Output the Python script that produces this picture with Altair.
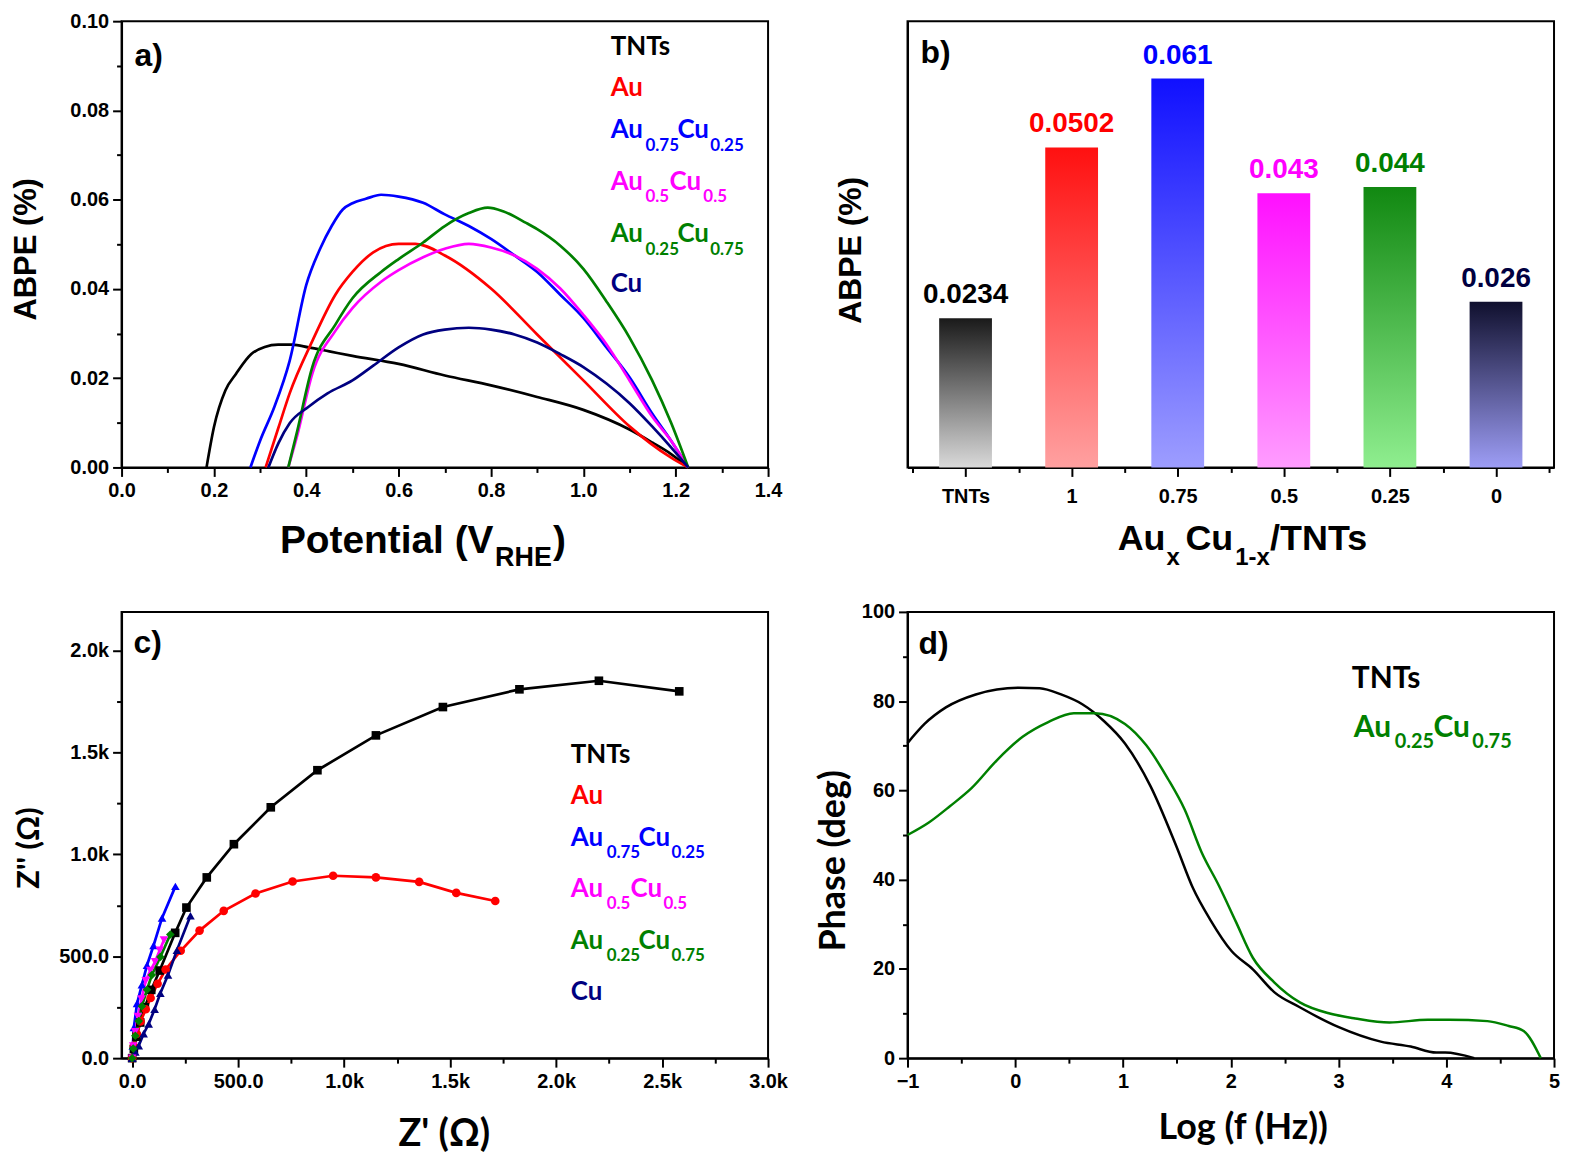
import altair as alt
import pandas as pd

ARIAL = "Liberation Sans"
CAL = "Lato"

# ---------------- Panel a data (ABPE vs potential) ----------------
a_series = ["TNTs", "Au", "Au0.75Cu0.25", "Au0.5Cu0.5", "Au0.25Cu0.75", "Cu"]
a_colors = ["#000000", "#ff0000", "#0000ff", "#ff00ff", "#008000", "#000080"]

tnt_x = [0.184, 0.20, 0.225, 0.248, 0.281, 0.31, 0.339, 0.37, 0.405, 0.45, 0.5, 0.6, 0.7, 0.8, 0.9, 1.0, 1.1, 1.149, 1.19, 1.227]
tnt_y = [0, 0.009, 0.0173, 0.021, 0.0254, 0.027, 0.0275, 0.0275, 0.0269, 0.026, 0.025, 0.0232, 0.0206, 0.0184, 0.0158, 0.0129, 0.0085, 0.0056, 0.003, 0]
au_x = [0.312, 0.34, 0.364, 0.413, 0.463, 0.50, 0.545, 0.6, 0.636, 0.70, 0.8, 0.9, 1.0, 1.1, 1.19, 1.227]
au_y = [0, 0.009, 0.0166, 0.0283, 0.0387, 0.0438, 0.0482, 0.0501, 0.0501, 0.0475, 0.0401, 0.0298, 0.0195, 0.0092, 0.0022, 0]
a75_x = [0.279, 0.30, 0.331, 0.364, 0.40, 0.43, 0.455, 0.479, 0.50, 0.529, 0.562, 0.6, 0.653, 0.70, 0.752, 0.80, 0.851, 0.90, 0.95, 1.0, 1.05, 1.1, 1.149, 1.19, 1.227]
a75_y = [0, 0.006, 0.0136, 0.0239, 0.0409, 0.049, 0.0541, 0.0578, 0.0592, 0.0602, 0.0611, 0.0607, 0.0593, 0.0567, 0.0541, 0.0512, 0.0475, 0.0438, 0.0387, 0.0335, 0.0269, 0.0202, 0.0121, 0.006, 0]
a50_x = [0.361, 0.38, 0.413, 0.463, 0.5, 0.562, 0.6, 0.653, 0.7, 0.752, 0.8, 0.851, 0.9, 0.95, 1.0, 1.05, 1.1, 1.149, 1.19, 1.227]
a50_y = [0, 0.007, 0.021, 0.0306, 0.0357, 0.0416, 0.0442, 0.0471, 0.049, 0.0501, 0.0493, 0.0475, 0.0445, 0.0401, 0.0342, 0.0276, 0.0195, 0.0114, 0.006, 0]
a25_x = [0.361, 0.38, 0.413, 0.463, 0.5, 0.562, 0.6, 0.653, 0.7, 0.752, 0.793, 0.826, 0.876, 0.9, 0.95, 1.0, 1.05, 1.1, 1.149, 1.19, 1.227]
a25_y = [0, 0.008, 0.0225, 0.032, 0.0379, 0.0438, 0.0467, 0.0504, 0.0541, 0.057, 0.0582, 0.0574, 0.0548, 0.0534, 0.0497, 0.0445, 0.0372, 0.0291, 0.0195, 0.010, 0]
cu_x = [0.318, 0.34, 0.364, 0.405, 0.446, 0.5, 0.545, 0.6, 0.653, 0.7, 0.752, 0.8, 0.851, 0.9, 0.95, 1.0, 1.05, 1.1, 1.149, 1.19, 1.227]
cu_y = [0, 0.0055, 0.0099, 0.0136, 0.0166, 0.0195, 0.0228, 0.0269, 0.0298, 0.0309, 0.0313, 0.0309, 0.0298, 0.028, 0.0254, 0.0225, 0.0188, 0.0144, 0.0092, 0.0045, 0]

# ---------------- Panel b data (bar chart) ----------------
b_cats = ["TNTs", "1", "0.75", "0.5", "0.25", "0"]
b_vals = [0.0234, 0.0502, 0.061, 0.043, 0.044, 0.026]
b_labels = ["0.0234", "0.0502", "0.061", "0.043", "0.044", "0.026"]
b_top = ["#1a1a1a", "#ff1010", "#1010ff", "#ff10ff", "#118811", "#10102e"]
b_bottom = ["#d9d9d9", "#ffa0a0", "#9d9dff", "#ff9cff", "#8fee8f", "#9d9df5"]
b_text = ["#000000", "#ff0000", "#0000ff", "#ff00ff", "#008000", "#000040"]

# ---------------- Panel c data (Nyquist) ----------------
c_series = ["TNTs", "Au", "Au0.75Cu0.25", "Cu", "Au0.5Cu0.5", "Au0.25Cu0.75"]
c_colors = ["#000000", "#ff0000", "#0000ff", "#000080", "#ff00ff", "#008000"]
c_shapes = ["square", "circle", "triangle-up", "triangle-up", "triangle-down", "diamond"]
ct_x = [0, 8, 20, 38, 60, 90, 130, 203, 256, 352, 480, 654, 874, 1150, 1466, 1827, 2202, 2581]
ct_y = [0, 45, 105, 175, 250, 335, 430, 615, 739, 887, 1050, 1231, 1413, 1584, 1723, 1810, 1852, 1800]
ca_x = [0, 8, 22, 40, 64, 87, 120, 158, 229, 318, 432, 582, 757, 948, 1150, 1354, 1529, 1713]
ca_y = [0, 60, 120, 180, 240, 295, 365, 435, 527, 626, 723, 808, 867, 895, 887, 865, 811, 771]
c75_x = [0, 3, 8, 23, 46, 70, 101, 141, 204]
c75_y = [0, 60, 150, 268, 360, 456, 553, 688, 843]
ccu_x = [0, 15, 31, 54, 78, 106, 133, 169, 211, 275]
ccu_y = [0, 30, 61, 120, 168, 240, 319, 408, 529, 699]
c50_x = [0, 5, 14, 27, 44, 64, 86, 108, 130, 150]
c50_y = [0, 60, 130, 205, 290, 380, 430, 473, 530, 580]
c25_x = [0, 5, 15, 31, 46, 70, 93, 133, 180]
c25_y = [0, 47, 110, 182, 255, 336, 408, 497, 607]

# ---------------- Panel d data (Bode phase) ----------------
d_series = ["TNTs", "Au0.25Cu0.75"]
d_colors = ["#000000", "#008000"]
dt_x = [-1, -0.842, -0.644, -0.367, 0.029, 0.227, 0.425, 0.622, 0.82, 1.018, 1.256, 1.493, 1.651, 1.81, 2.007, 2.205, 2.403, 2.64, 2.997, 3.392, 3.67, 3.907, 3.99, 4.26]
dt_y = [70.6, 74.9, 78.6, 81.5, 83.0, 82.9, 81.5, 79.3, 75.6, 70.5, 60.9, 47.6, 38.0, 31.0, 24.0, 19.9, 14.8, 11.4, 7.0, 3.7, 2.6, 1.25, 1.25, 0]
dg_x = [-1, -0.802, -0.604, -0.406, -0.169, 0.068, 0.306, 0.543, 0.741, 1.018, 1.216, 1.414, 1.572, 1.73, 1.889, 2.047, 2.205, 2.403, 2.641, 2.918, 3.155, 3.472, 3.828, 4.026, 4.382, 4.58, 4.718, 4.877]
dg_y = [50.0, 52.8, 56.5, 60.5, 66.8, 72.0, 75.3, 77.3, 77.3, 74.9, 70.1, 62.7, 55.7, 46.1, 38.7, 30.6, 22.5, 17.0, 12.5, 10.0, 8.9, 8.0, 8.6, 8.6, 8.3, 7.2, 6.1, 0]

W, H = 649, 448


def long_df(names, xs, ys):
    rows = []
    for n, xa, ya in zip(names, xs, ys):
        for i, (xv, yv) in enumerate(zip(xa, ya)):
            rows.append({"s": n, "x": xv, "y": yv, "o": i})
    return pd.DataFrame(rows)


def txt(s, x, y, size, color="black", font=ARIAL, angle=0, align="left", baseline="alphabetic"):
    return alt.Chart(pd.DataFrame({"t": [s]})).mark_text(
        font=font, fontSize=size, fontWeight="bold", color=color, angle=angle,
        align=align, baseline=baseline
    ).encode(x=alt.value(x), y=alt.value(y), text="t:N")


def sub_label(parts, base, size, subsize, subdy, color):
    out = []
    for t, x, is_sub in parts:
        if is_sub:
            out.append(txt(t, x, base + subdy, subsize, color, CAL))
        else:
            out.append(txt(t, x, base, size, color, CAL))
    return out


def axis(values, major_test, label_expr, **kw):
    return alt.Axis(values=values, title=None, labelExpr=label_expr,
                    tickSize={"condition": {"test": major_test, "value": 9}, "value": 5},
                    labelFlush=False, labelOverlap=False, grid=False, **kw)


# ================= Panel a =================
dfa = long_df(a_series, [tnt_x, au_x, a75_x, a50_x, a25_x, cu_x], [tnt_y, au_y, a75_y, a50_y, a25_y, cu_y])
xa_vals = [round(i * 0.1, 1) for i in range(15)]
ya_vals = [round(i * 0.01, 2) for i in range(11)]
lines_a = alt.Chart(dfa).mark_line(strokeWidth=2.7, interpolate="monotone").encode(
    x=alt.X("x:Q", scale=alt.Scale(domain=[0, 1.4], nice=False, zero=False),
            axis=axis(xa_vals, "round(datum.value*10) % 2 === 0",
                      "round(datum.value*10) % 2 === 0 ? format(datum.value, '.1f') : ''")),
    y=alt.Y("y:Q", scale=alt.Scale(domain=[0, 0.10], nice=False),
            axis=axis(ya_vals, "round(datum.value*100) % 2 === 0",
                      "round(datum.value*100) % 2 === 0 ? format(datum.value, '.2f') : ''")),
    color=alt.Color("s:N", scale=alt.Scale(domain=a_series, range=a_colors), legend=None),
    order="o:Q",
)
a_layers = [lines_a,
            txt("a)", 13, 45, 32),
            txt("ABPE (%)", -95, 229, 31, angle=270, align="center", baseline="middle"),
            txt("Potential (V", 159, H + 86, 39),
            txt("RHE", 375, H + 99, 27),
            txt(")", 433, H + 86, 39),
            txt("TNTs", 491, 34, 26, a_colors[0], CAL),
            txt("Au", 491, 75, 26, a_colors[1], CAL)]
a_layers += sub_label([("Au", 491, False), ("0.75", 526, True), ("Cu", 558, False), ("0.25", 591, True)], 117, 26, 17, 13, a_colors[2])
a_layers += sub_label([("Au", 491, False), ("0.5", 526, True), ("Cu", 550, False), ("0.5", 584, True)], 169, 26, 17, 13, a_colors[3])
a_layers += sub_label([("Au", 491, False), ("0.25", 526, True), ("Cu", 558, False), ("0.75", 591, True)], 222, 26, 17, 13, a_colors[4])
a_layers += [txt("Cu", 491, 272, 26, a_colors[5], CAL)]
panel_a = alt.layer(*a_layers).properties(width=W, height=H)

# ================= Panel b =================
dfb = pd.DataFrame({"i": list(range(len(b_cats))), "cat": b_cats, "v": b_vals, "lab": b_labels})
xb_vals = [i * 0.5 - 0.5 for i in range(13)]
cat_arr = "[" + ",".join("'" + c + "'" for c in b_cats) + "]"
xb = alt.X("i:Q", scale=alt.Scale(domain=[-0.5, 5.5], nice=False, zero=False),
           axis=axis(xb_vals, "datum.value % 1 === 0",
                     "datum.value % 1 === 0 ? " + cat_arr + "[datum.value] : ''", labelPadding=10))
yb = alt.Y("v:Q", scale=alt.Scale(domain=[0, 0.07], nice=False),
           axis=alt.Axis(title=None, labels=False, ticks=False, grid=False))
b_layers = []
for k in range(len(b_cats)):
    grad = alt.Gradient(gradient="linear",
                        stops=[alt.GradientStop(color=b_top[k], offset=0),
                               alt.GradientStop(color=b_bottom[k], offset=1)],
                        x1=0, x2=0, y1=0, y2=1)
    b_layers.append(alt.Chart(dfb).transform_filter(alt.datum.i == k)
                    .mark_bar(size=53, color=grad).encode(x=xb, y=yb))
    b_layers.append(alt.Chart(dfb).transform_filter(alt.datum.i == k)
                    .mark_text(font=ARIAL, fontSize=28, fontWeight="bold", dy=-15,
                               baseline="alphabetic", color=b_text[k])
                    .encode(x=xb, y=yb, text="lab:N"))
b_layers += [txt("b)", 13, 42, 32),
             txt("ABPE (%)", -57, 230, 32, angle=270, align="center", baseline="middle"),
             txt("Au", 211, H + 83, 36), txt("x", 260, H + 98, 24), txt("Cu", 279, H + 83, 36),
             txt("1-x", 329, H + 98, 24), txt("/TNTs", 364, H + 83, 36)]
panel_b = alt.layer(*b_layers).properties(width=W, height=H)

# ================= Panel c =================
dfc = long_df(c_series, [ct_x, ca_x, c75_x, ccu_x, c50_x, c25_x], [ct_y, ca_y, c75_y, ccu_y, c50_y, c25_y])
xc_vals = [i * 250 for i in range(13)]
yc_vals = [i * 250 for i in range(9)]
kfmt = "datum.value % 500 === 0 ? (datum.value < 1000 ? format(datum.value, '.1f') : format(datum.value/1000, '.1f') + 'k') : ''"
xc = alt.X("x:Q", scale=alt.Scale(domain=[-50, 3000], nice=False, zero=False),
           axis=axis(xc_vals, "datum.value % 500 === 0", kfmt))
yc = alt.Y("y:Q", scale=alt.Scale(domain=[0, 2190], nice=False),
           axis=axis(yc_vals, "datum.value % 500 === 0", kfmt))
ccol = alt.Color("s:N", scale=alt.Scale(domain=c_series, range=c_colors), legend=None)
lines_c = alt.Chart(dfc).mark_line(strokeWidth=2.7).encode(x=xc, y=yc, color=ccol, order="o:Q")
pts_c = alt.Chart(dfc).mark_point(filled=True, opacity=1, size=75).encode(
    x=xc, y=yc, color=ccol,
    shape=alt.Shape("s:N", scale=alt.Scale(domain=c_series, range=c_shapes), legend=None))
c_layers = [lines_c, pts_c,
            txt("c)", 12, 41, 32),
            txt("Z'' (Ω)", -92, 237, 31, font=CAL, angle=270, align="center", baseline="middle"),
            txt("Z' (Ω)", 324, H + 88, 38, font=CAL, align="center"),
            txt("TNTs", 451, 152, 26, "#000000", CAL),
            txt("Au", 451, 193, 26, "#ff0000", CAL)]
c_layers += sub_label([("Au", 451, False), ("0.75", 487, True), ("Cu", 519, False), ("0.25", 552, True)], 235, 26, 17, 12, "#0000ff")
c_layers += sub_label([("Au", 451, False), ("0.5", 487, True), ("Cu", 511, False), ("0.5", 544, True)], 286, 26, 17, 12, "#ff00ff")
c_layers += sub_label([("Au", 451, False), ("0.25", 487, True), ("Cu", 519, False), ("0.75", 552, True)], 338, 26, 17, 12, "#008000")
c_layers += [txt("Cu", 451, 390, 26, "#000080", CAL)]
panel_c = alt.layer(*c_layers).properties(width=W, height=H)

# ================= Panel d =================
dfd = long_df(d_series, [dt_x, dg_x], [dt_y, dg_y])
xd_vals = [i * 0.5 - 1 for i in range(13)]
yd_vals = [i * 10 for i in range(11)]
lines_d = alt.Chart(dfd).mark_line(strokeWidth=2.5, interpolate="monotone").encode(
    x=alt.X("x:Q", scale=alt.Scale(domain=[-1, 5], nice=False, zero=False),
            axis=axis(xd_vals, "datum.value % 1 === 0",
                      "datum.value % 1 === 0 ? format(datum.value, 'd') : ''")),
    y=alt.Y("y:Q", scale=alt.Scale(domain=[0, 100], nice=False),
            axis=axis(yd_vals, "datum.value % 20 === 0",
                      "datum.value % 20 === 0 ? format(datum.value, 'd') : ''")),
    color=alt.Color("s:N", scale=alt.Scale(domain=d_series, range=d_colors), legend=None),
    order="o:Q",
)
d_layers = [lines_d,
            txt("d)", 11, 42, 32),
            txt("Phase (deg)", -74, 250, 36, font=CAL, angle=270, align="center", baseline="middle"),
            txt("Log (f (Hz))", 337, H + 81, 36, font=CAL, align="center"),
            txt("TNTs", 446, 76, 30, "#000000", CAL)]
d_layers += sub_label([("Au", 448, False), ("0.25", 489, True), ("Cu", 528, False), ("0.75", 567, True)], 126, 30, 20, 11, "#008000")
panel_d = alt.layer(*d_layers).properties(width=W, height=H)

chart = alt.concat(panel_a, panel_b, panel_c, panel_d, columns=2,
                   spacing={"row": 145, "column": 140}, bounds="flush").properties(
    padding={"left": 2, "top": 0, "right": 0, "bottom": 0}
).configure_view(stroke="black", strokeWidth=2).configure_axis(
    domainColor="black", domainWidth=2, tickColor="black", tickWidth=2,
    labelFont=ARIAL, labelFontSize=20, labelFontWeight="bold", labelColor="black",
    labelPadding=4
)

chart.save("out.html", embed_options={"renderer": "svg", "actions": False})
